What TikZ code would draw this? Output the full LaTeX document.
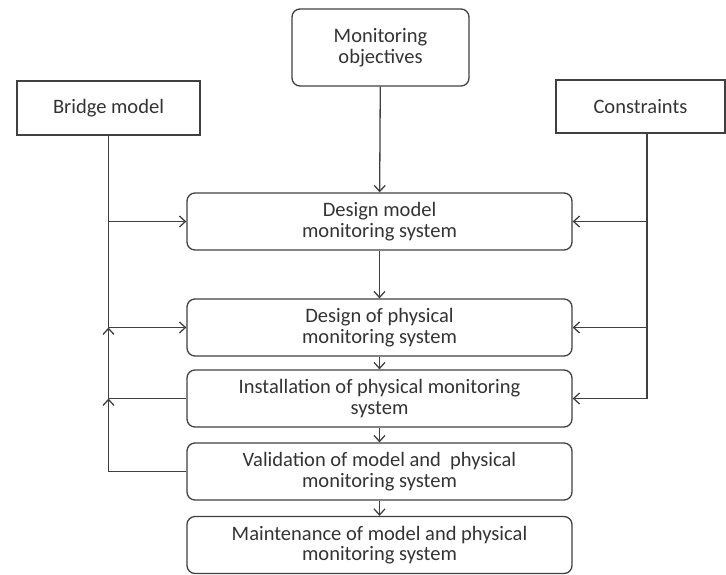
\documentclass[tikz,border=0pt]{standalone}
\usepackage{fontspec}
\setmainfont{Carlito}
\usetikzlibrary{arrows.meta,positioning,calc}

\tikzset{
  box/.style={draw=black!75, line width=1.3pt, inner sep=0pt, align=center,
    text=black!80, font=\fontsize{20.5}{20.5}\selectfont},
  stepbox/.style={box, rounded corners=8pt, minimum width=385pt, minimum height=57pt},
  flow/.style={draw=black!75, line width=1.3pt, -{Straight Barb[length=6pt,width=11pt,line width=1.3pt]}},
  plain/.style={draw=black!75, line width=1.3pt}
}

\begin{document}
\begin{tikzpicture}[x=1pt,y=-1pt]
  \useasboundingbox (0,0) rectangle (726,574);
  % inputs
  \node[box, rounded corners=8pt, minimum width=177pt, minimum height=77pt] (obj) at (380.5,47.5) {Monitoring\\objectives};
  \node[box, minimum width=183pt, minimum height=54pt] (bridge) at (108.5,108) {Bridge model};
  \node[box, minimum width=169pt, minimum height=53pt] (cons) at (640.5,106.5) {Constraints};
  % main steps
  \node[stepbox] (dm) at (379.5,221.5) {Design model\\monitoring system};
  \node[stepbox] (dp) at (379.5,327.5) {Design of physical\\monitoring system};
  \node[stepbox] (inst) at (379.5,398.5) {Installation of physical monitoring\\system};
  \node[stepbox] (val) at (379.5,471.5) {Validation of model and \ physical\\monitoring system};
  \node[stepbox] (maint) at (379.5,545) {Maintenance of model and physical\\monitoring system};
  % top-down flow
  \draw[flow] (obj) -- (dm);
  \draw[flow] (dm) -- (dp);
  \draw[flow] (dp) -- (inst);
  \draw[flow] (inst) -- (val);
  \draw[flow] (val) -- (maint);
  % bridge model feed
  \draw[plain] (bridge.south) -- (bridge.south |- dp.west);
  \draw[flow] (bridge.south |- dm.west) -- (dm.west);
  \draw[flow] (bridge.south |- dp.west) -- (dp.west);
  % feedback
  \draw[flow] (val.west) -- (val.west -| bridge.south) -- (inst.west -| bridge.south);
  \draw[flow] (inst.west) -- (inst.west -| bridge.south) -- (dp.west -| bridge.south);
  % constraints feed
  \coordinate (c) at ($(cons.south)+(6.5,0)$);
  \draw[plain] (c) -- (c |- inst.east);
  \draw[flow] (c |- dm.east) -- (dm.east);
  \draw[flow] (c |- dp.east) -- (dp.east);
  \draw[flow] (c |- inst.east) -- (inst.east);
\end{tikzpicture}
\end{document}
